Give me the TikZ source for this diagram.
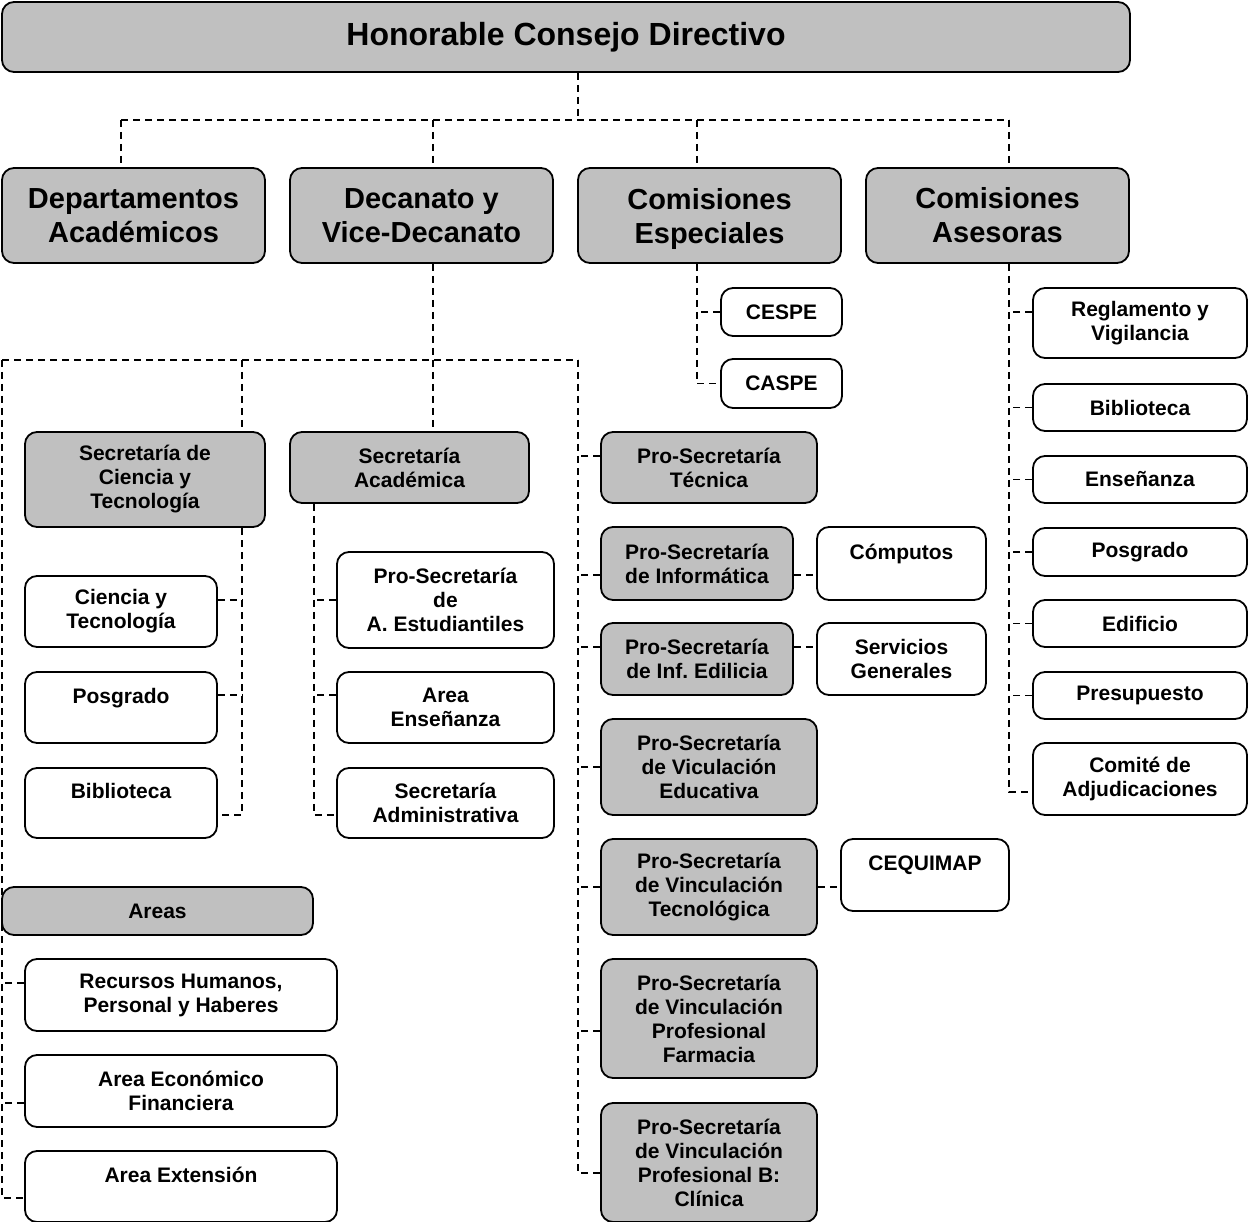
\documentclass[tikz,border=0pt]{standalone}
\usepackage{fontspec}
\setmainfont{Liberation Sans}
\usepackage{xcolor}
\usetikzlibrary{backgrounds}

\definecolor{gris}{RGB}{192,192,192}

\begin{document}
\begin{tikzpicture}[x=1pt, y=-1pt,
  caja/.style={draw=black, line width=1.8pt, rounded corners=12pt, fill=white,
    inner sep=0pt, align=center, font=\fontsize{21}{24}\selectfont\bfseries},
  cajagris/.style={caja, fill=gris},
  cajagrande/.style={cajagris, font=\fontsize{29}{34}\selectfont\bfseries},
  link/.style={line width=1.4pt, dash pattern=on 7pt off 5pt}]
  \useasboundingbox (0,0) rectangle (1248,1222);

  % Consejo y primer nivel
  \node[cajagris, minimum width=1128pt, minimum height=70pt,
    font=\fontsize{32}{38}\selectfont\bfseries] (hcd) at (566,37) {Honorable Consejo Directivo};
  \node[cajagrande, minimum width=263pt, minimum height=95pt] (dep) at (133.5,215.5) {Departamentos\\Académicos};
  \node[cajagrande, minimum width=263pt, minimum height=95pt] (dec) at (421.5,215.5) {Decanato y\\Vice-Decanato};
  \node[cajagrande, minimum width=263pt, minimum height=95pt] (ce) at (709.5,215.5) {Comisiones\\\smash{Especiales}};
  \node[cajagrande, minimum width=263pt, minimum height=95pt] (ca) at (997.5,215.5) {Comisiones\\Asesoras};

  % Comisiones especiales
  \node[caja, minimum width=121pt, minimum height=48pt] (cespe) at (781.5,312) {CESPE};
  \node[caja, minimum width=121pt, minimum height=49pt] (caspe) at (781.5,383.5) {CASPE};

  % Comisiones asesoras
  \node[caja, minimum width=214pt, minimum height=70pt] (rv) at (1140,323) {Reglamento y\\Vigilancia};
  \node[caja, minimum width=214pt, minimum height=47pt] (bib2) at (1140,407.5) {Biblioteca};
  \node[caja, minimum width=214pt, minimum height=47pt] (ens) at (1140,479.5) {Enseñanza};
  \node[caja, minimum width=214pt, minimum height=48pt] (pos2) at (1140,552) {Posgrado};
  \node[caja, minimum width=214pt, minimum height=47pt] (edi) at (1140,623.5) {Edificio};
  \node[caja, minimum width=214pt, minimum height=47pt] (pre) at (1140,695.5) {Presupuesto};
  \node[caja, minimum width=214pt, minimum height=72pt] (cad) at (1140,779) {Comité de\\Adjudicaciones};

  % Secretarias
  \node[cajagris, minimum width=240pt, minimum height=95pt] (sct) at (145,479.5) {Secretaría de\\Ciencia y\\Tecnología};
  \node[cajagris, minimum width=239pt, minimum height=71pt] (sa) at (409.5,467.5) {Secretaría\\Académica};
  \node[caja, minimum width=192pt, minimum height=71pt] (cyt) at (121,611.5) {Ciencia y\\Tecnología};
  \node[caja, minimum width=192pt, minimum height=71pt] (posg) at (121,707.5) {Posgrado\\~};
  \node[caja, minimum width=192pt, minimum height=70pt] (bib) at (121,803) {Biblioteca\\~};
  \node[caja, minimum width=217pt, minimum height=96pt] (pae) at (445.5,600) {Pro-Secretaría\\de\\A. Estudiantiles};
  \node[caja, minimum width=217pt, minimum height=71pt] (aen) at (445.5,707.5) {Area\\Enseñanza};
  \node[caja, minimum width=217pt, minimum height=70pt] (sadm) at (445.5,803) {Secretaría\\Administrativa};

  % Areas
  \node[cajagris, minimum width=311pt, minimum height=48pt] (areas) at (157.5,911) {Areas};
  \node[caja, minimum width=312pt, minimum height=72pt] (rh) at (181,995) {Recursos Humanos,\\Personal y Haberes};
  \node[caja, minimum width=312pt, minimum height=72pt] (eco) at (181,1091) {Area Económico\\Financiera};
  \node[caja, minimum width=312pt, minimum height=71pt] (ext) at (181,1186.5) {Area Extensión\\~};

  % Pro-Secretarias
  \node[cajagris, minimum width=216pt, minimum height=71pt] (pst) at (709,467.5) {Pro-Secretaría\\Técnica};
  \node[cajagris, minimum width=192pt, minimum height=73pt] (pinf) at (697,563.5) {Pro-Secretaría\\de Informática};
  \node[caja, minimum width=169pt, minimum height=73pt] (comp) at (901.5,563.5) {Cómputos\\~};
  \node[cajagris, minimum width=192pt, minimum height=72pt] (pedi) at (697,659) {Pro-Secretaría\\de Inf.\ Edilicia};
  \node[caja, minimum width=169pt, minimum height=72pt] (sgen) at (901.5,659) {Servicios\\Generales};
  \node[cajagris, minimum width=216pt, minimum height=96pt] (pve) at (709,767) {Pro-Secretaría\\de Viculación\\Educativa};
  \node[cajagris, minimum width=216pt, minimum height=96pt] (pvt) at (709,887) {Pro-Secretaría\\de Vinculación\\Tecnológica};
  \node[caja, minimum width=168pt, minimum height=72pt] (ceq) at (925,875) {CEQUIMAP\\~};
  \node[cajagris, minimum width=216pt, minimum height=119pt] (pvf) at (709,1018.5) {Pro-Secretaría\\de Vinculación\\Profesional\\Farmacia};
  \node[cajagris, minimum width=216pt, minimum height=119pt] (pvb) at (709,1162.5) {Pro-Secretaría\\de Vinculación\\Profesional B:\\Clínica};

  \begin{scope}[on background layer]
    % bus del consejo
    \coordinate (b0) at (578,120);
    \coordinate (bDep) at (121,120);
    \coordinate (bDec) at (433,120);
    \coordinate (bCE) at (697,120);
    \coordinate (bCA) at (1009,120);
    \draw[link] (hcd.south -| b0) -- (b0);
    \draw[link] (bDep) -- (bCA);
    \foreach \b/\n in {bDep/dep, bDec/dec, bCE/ce, bCA/ca}
      \draw[link] (\b) -- (\n.north -| \b);

    % comisiones
    \draw[link] (ce.south -| bCE) |- (caspe.west);
    \draw[link] (cespe.west) -- (cespe.west -| bCE);
    \draw[link] (ca.south -| bCA) |- ([yshift=-13pt]cad.west);
    \draw[link] ([yshift=11pt]rv.west) -- ++(-24,0);
    \foreach \n in {bib2, ens, pos2, edi, pre}
      \draw[link] (\n.west) -- (\n.west -| bCA);

    % decanato
    \coordinate (dL) at (2,360);
    \coordinate (dM) at (242,360);
    \coordinate (dR) at (578,360);
    \draw[link] (dec.south -| bDec) -- (sa.north -| bDec);
    \draw[link] (dL) -- (dR);
    \draw[link] (dL) |- ([yshift=-11.5pt]ext.west);
    \draw[link] ([yshift=12pt]rh.west) -- ++(-23,0);
    \draw[link] ([yshift=-12pt]eco.west) -- ++(-23,0);
    \draw[link] (dM) |- ([yshift=-12pt]bib.east);
    \draw[link] ([yshift=11.5pt]cyt.east) -- ++(25,0);
    \draw[link] ([yshift=12.5pt]posg.east) -- ++(25,0);
    \draw[link] ([xshift=-95.5pt]sa.south) |- ([yshift=-12pt]sadm.west);
    \draw[link] (pae.west) -- ++(-23,0);
    \draw[link] ([yshift=12.5pt]aen.west) -- ++(-23,0);
    \draw[link] (dR) |- ([yshift=-10.5pt]pvb.west);
    \draw[link] ([yshift=11.5pt]pst.west) -- ++(-23,0);
    \draw[link] ([yshift=-11.5pt]pinf.west) -- ++(-23,0);
    \draw[link] ([yshift=12pt]pedi.west) -- ++(-23,0);
    \draw[link] (pve.west) -- ++(-23,0);
    \draw[link] (pvt.west) -- ++(-23,0);
    \draw[link] ([yshift=-12.5pt]pvf.west) -- ++(-23,0);
    \draw[link] ([yshift=-11.5pt]pinf.east) -- ([yshift=-11.5pt]comp.west);
    \draw[link] ([yshift=12pt]pedi.east) -- ([yshift=12pt]sgen.west);
    \draw[link] (pvt.east) -- ([yshift=-12pt]ceq.west);
  \end{scope}
\end{tikzpicture}
\end{document}
